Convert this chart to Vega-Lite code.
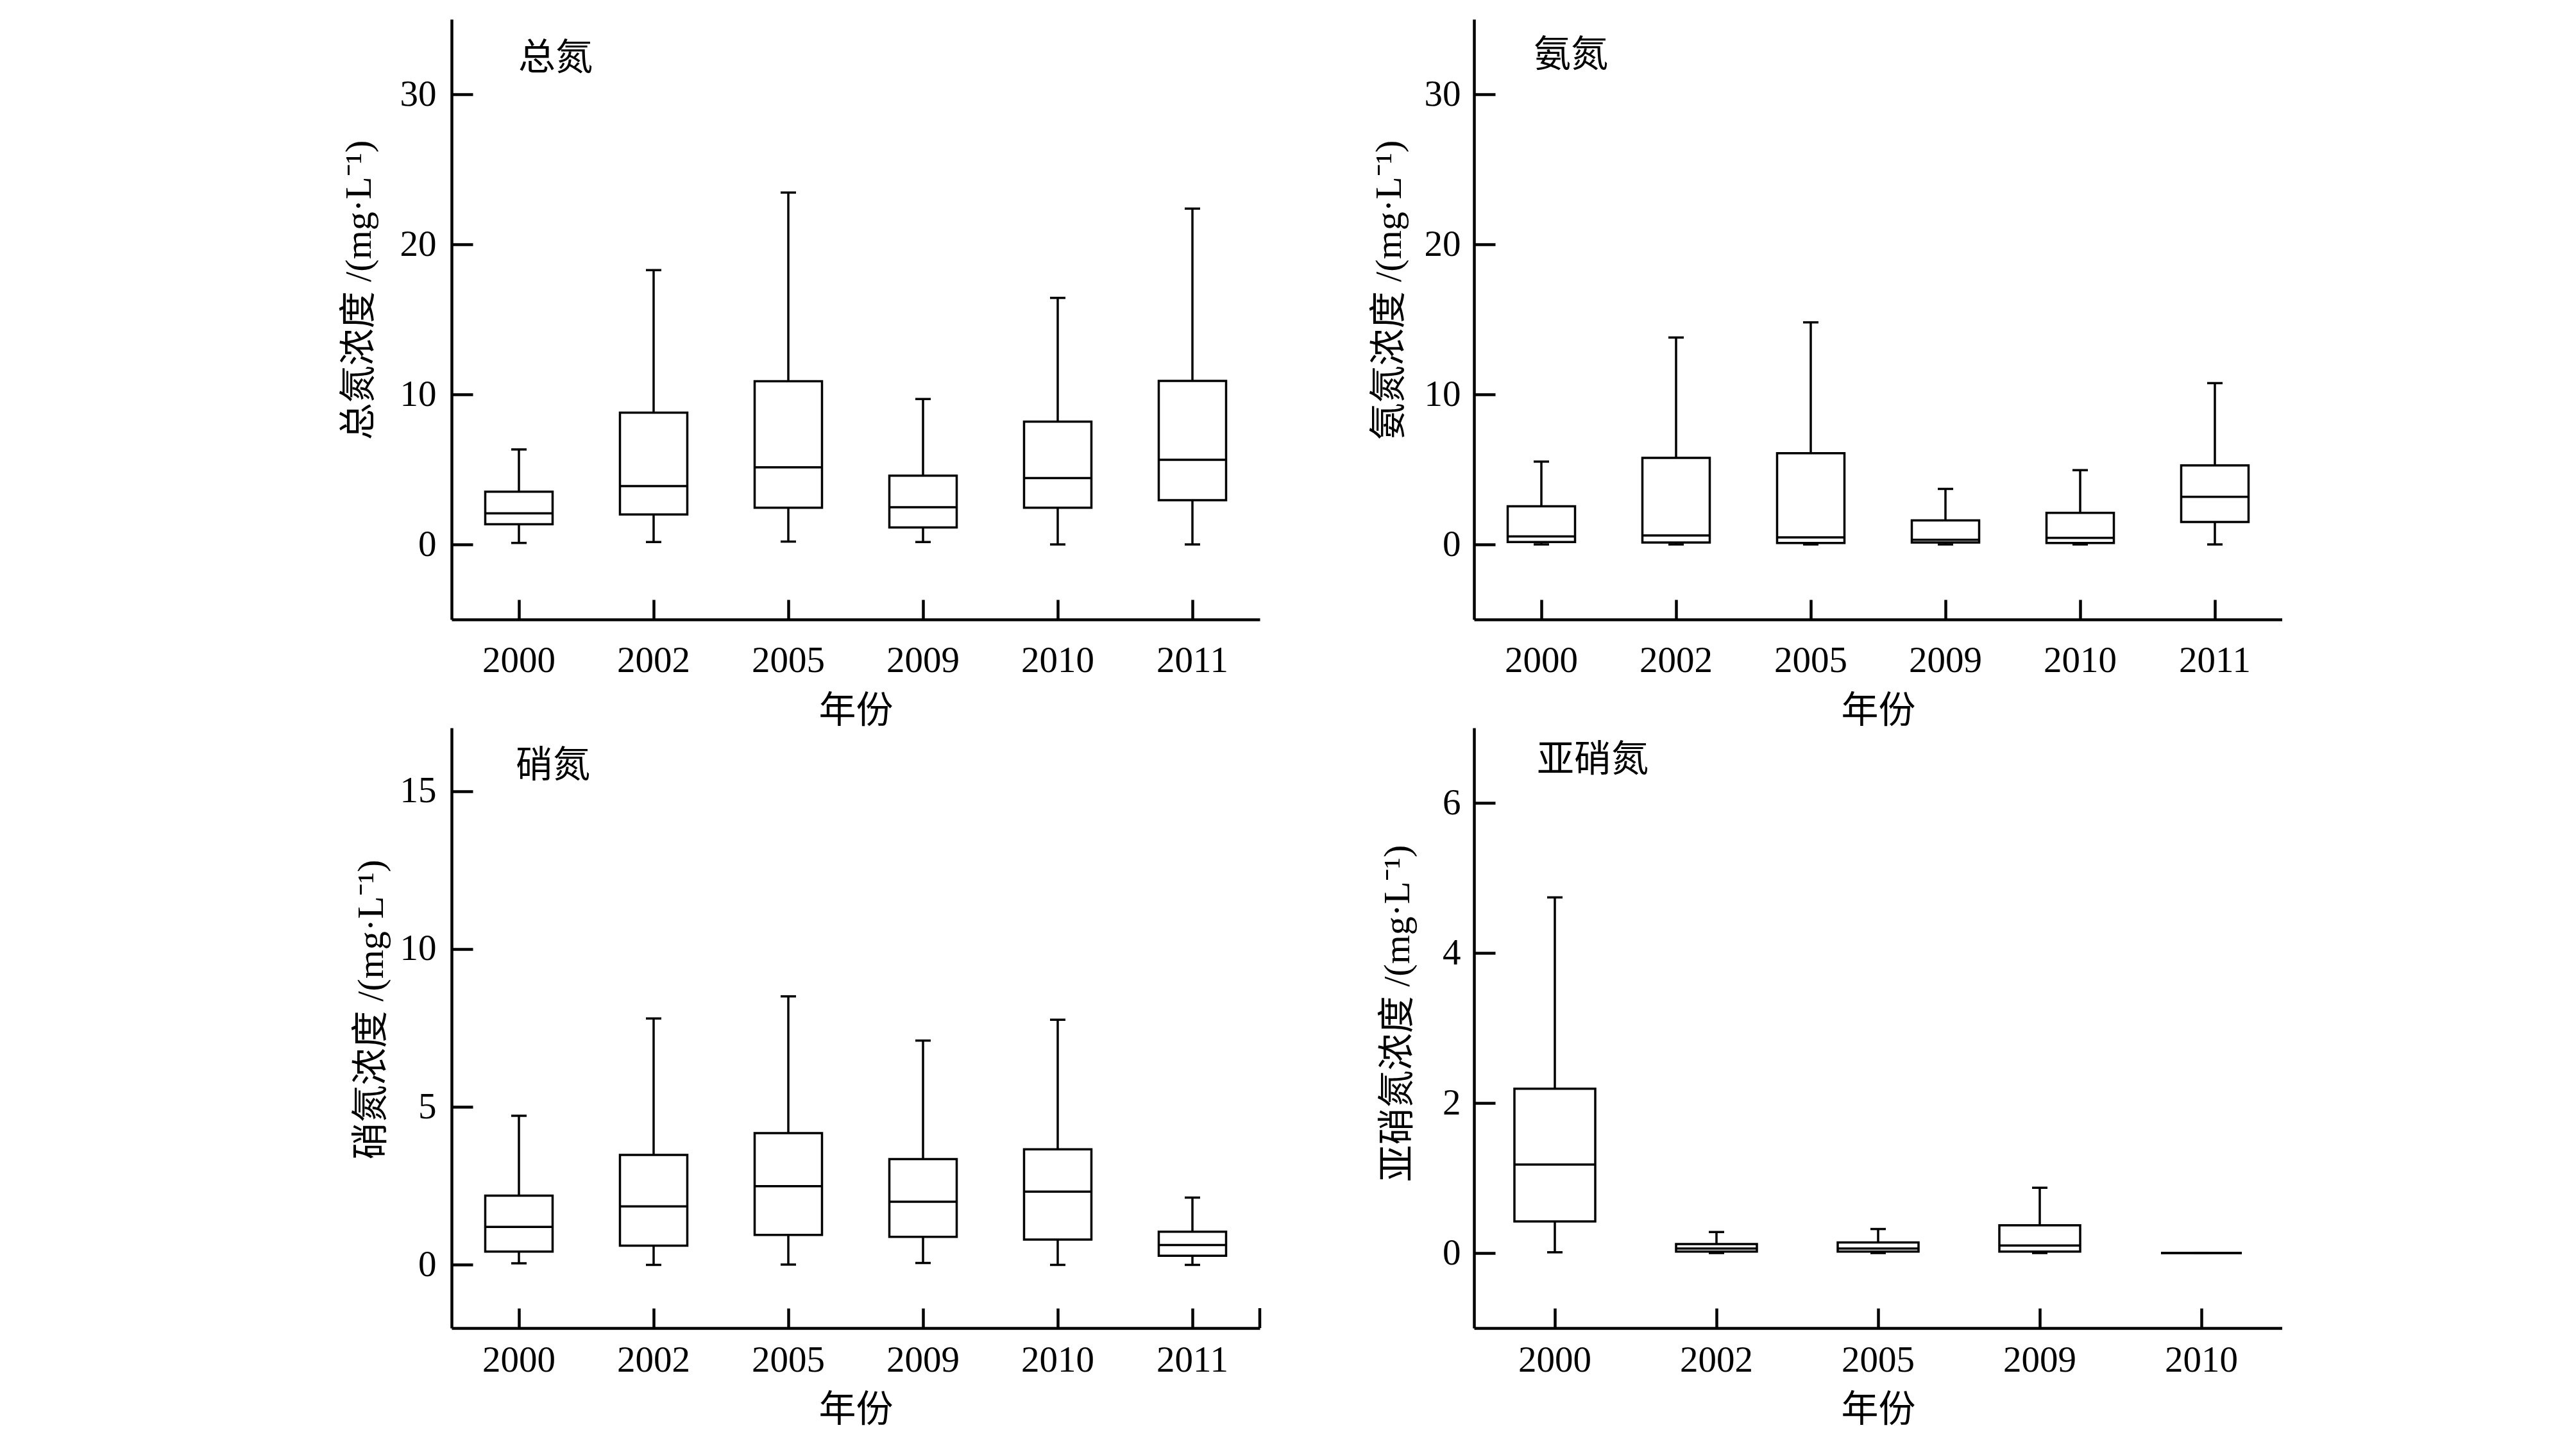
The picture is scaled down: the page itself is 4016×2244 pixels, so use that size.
{
  "$schema": "https://vega.github.io/schema/vega-lite/v6.json",
  "autosize": {"type": "pad"},
  "padding": {"left": 531, "top": 30, "right": 0, "bottom": 0},
  "background": "white",
  "columns": 2,
  "spacing": {"row": 169, "column": 334},
  "bounds": "flush",
  "datasets": {
    "box": [
      {"panel": "TN", "year": "2000", "min": 0.1, "q1": 1.35, "median": 2.07, "q3": 3.51, "max": 6.33},
      {"panel": "TN", "year": "2002", "min": 0.16, "q1": 2.0, "median": 3.89, "q3": 8.78, "max": 18.28},
      {"panel": "TN", "year": "2005", "min": 0.19, "q1": 2.45, "median": 5.14, "q3": 10.88, "max": 23.45},
      {"panel": "TN", "year": "2009", "min": 0.16, "q1": 1.13, "median": 2.48, "q3": 4.58, "max": 9.69},
      {"panel": "TN", "year": "2010", "min": 0, "q1": 2.45, "median": 4.42, "q3": 8.18, "max": 16.43},
      {"panel": "TN", "year": "2011", "min": 0, "q1": 2.95, "median": 5.64, "q3": 10.9, "max": 22.38},
      {"panel": "NH", "year": "2000", "min": 0, "q1": 0.16, "median": 0.53, "q3": 2.54, "max": 5.52},
      {"panel": "NH", "year": "2002", "min": 0, "q1": 0.13, "median": 0.6, "q3": 5.77, "max": 13.79},
      {"panel": "NH", "year": "2005", "min": 0, "q1": 0.1, "median": 0.47, "q3": 6.08, "max": 14.8},
      {"panel": "NH", "year": "2009", "min": 0, "q1": 0.13, "median": 0.31, "q3": 1.6, "max": 3.7},
      {"panel": "NH", "year": "2010", "min": 0, "q1": 0.1, "median": 0.44, "q3": 2.1, "max": 4.95},
      {"panel": "NH", "year": "2011", "min": 0, "q1": 1.5, "median": 3.17, "q3": 5.27, "max": 10.75},
      {"panel": "NO3", "year": "2000", "min": 0.05, "q1": 0.42, "median": 1.2, "q3": 2.19, "max": 4.72},
      {"panel": "NO3", "year": "2002", "min": 0, "q1": 0.61, "median": 1.85, "q3": 3.48, "max": 7.8},
      {"panel": "NO3", "year": "2005", "min": 0.01, "q1": 0.95, "median": 2.49, "q3": 4.17, "max": 8.5},
      {"panel": "NO3", "year": "2009", "min": 0.06, "q1": 0.89, "median": 2.0, "q3": 3.35, "max": 7.1},
      {"panel": "NO3", "year": "2010", "min": 0, "q1": 0.8, "median": 2.32, "q3": 3.66, "max": 7.76},
      {"panel": "NO3", "year": "2011", "min": 0, "q1": 0.29, "median": 0.63, "q3": 1.05, "max": 2.13},
      {"panel": "NO2", "year": "2000", "min": 0.01, "q1": 0.42, "median": 1.18, "q3": 2.19, "max": 4.74},
      {"panel": "NO2", "year": "2002", "min": 0, "q1": 0.02, "median": 0.06, "q3": 0.12, "max": 0.28},
      {"panel": "NO2", "year": "2005", "min": 0, "q1": 0.02, "median": 0.06, "q3": 0.14, "max": 0.32},
      {"panel": "NO2", "year": "2009", "min": 0, "q1": 0.02, "median": 0.1, "q3": 0.37, "max": 0.87},
      {"panel": "NO2", "year": "2010", "min": 0, "q1": 0, "median": 0, "q3": 0, "max": 0}
    ]
  },
  "concat": [
    {
      "width": 1260, "height": 936,
      "data": {"name": "box"},
      "transform": [{"filter": "datum.panel === 'TN'"}],
      "encoding": {
        "x": {"field": "year", "type": "ordinal", "scale": {"paddingInner": 0, "paddingOuter": 0},
              "axis": {"title": "年份", "labelAngle": 0, "tickSize": -31, "labelPadding": 67, "titleY": 143, "titleBaseline": "middle", "titleAlign": "center"}}
      },
      "layer": [
        {"mark": {"type": "rule", "strokeWidth": 3.5, "color": "black"},
         "encoding": {"y": {"field": "min", "type": "quantitative", "title": "总氮浓度 /(mg·L⁻¹)", "scale": {"domain": [-5, 35], "nice": false, "zero": false},
                            "axis": {"values": [0, 10, 20, 30], "format": "d", "tickSize": -33, "labelPadding": 57, "titleX": -144, "titleY": 422, "titleAngle": 270, "titleBaseline": "middle", "titleAlign": "center"}},
                      "y2": {"field": "q1"}}},
        {"mark": {"type": "rule", "strokeWidth": 3.5, "color": "black"},
         "encoding": {"y": {"field": "q3", "type": "quantitative", "title": "总氮浓度 /(mg·L⁻¹)"}, "y2": {"field": "max"}}},
        {"mark": {"type": "tick", "size": 24, "thickness": 3.5, "color": "black", "opacity": 1},
         "encoding": {"y": {"field": "min", "type": "quantitative", "title": "总氮浓度 /(mg·L⁻¹)"}}},
        {"mark": {"type": "tick", "size": 24, "thickness": 3.5, "color": "black", "opacity": 1},
         "encoding": {"y": {"field": "max", "type": "quantitative", "title": "总氮浓度 /(mg·L⁻¹)"}}},
        {"mark": {"type": "bar", "fill": "white", "stroke": "black", "strokeWidth": 3.5, "width": {"band": 0.5}},
         "encoding": {"y": {"field": "q1", "type": "quantitative", "title": "总氮浓度 /(mg·L⁻¹)"}, "y2": {"field": "q3"}}},
        {"mark": {"type": "tick", "size": 105, "thickness": 3.5, "color": "black", "opacity": 1},
         "encoding": {"y": {"field": "median", "type": "quantitative", "title": "总氮浓度 /(mg·L⁻¹)"}}},
        {"data": {"values": [{"label": "总氮"}]},
         "mark": {"type": "text", "align": "left", "baseline": "middle", "dx": -1, "fontSize": 58, "font": "Noto Sans CJK SC", "color": "black"},
         "encoding": {"x": {"datum": "2000"}, "y": {"datum": 32.35, "type": "quantitative", "title": "总氮浓度 /(mg·L⁻¹)"}, "text": {"field": "label"}}}
      ]
    },
    {
      "width": 1260, "height": 936,
      "data": {"name": "box"},
      "transform": [{"filter": "datum.panel === 'NH'"}],
      "encoding": {
        "x": {"field": "year", "type": "ordinal", "scale": {"paddingInner": 0, "paddingOuter": 0},
              "axis": {"title": "年份", "labelAngle": 0, "tickSize": -31, "labelPadding": 67, "titleY": 143, "titleBaseline": "middle", "titleAlign": "center"}}
      },
      "layer": [
        {"mark": {"type": "rule", "strokeWidth": 3.5, "color": "black"},
         "encoding": {"y": {"field": "min", "type": "quantitative", "title": "氨氮浓度 /(mg·L⁻¹)", "scale": {"domain": [-5, 35], "nice": false, "zero": false},
                            "axis": {"values": [0, 10, 20, 30], "format": "d", "tickSize": -33, "labelPadding": 54, "titleX": -132, "titleY": 422, "titleAngle": 270, "titleBaseline": "middle", "titleAlign": "center"}},
                      "y2": {"field": "q1"}}},
        {"mark": {"type": "rule", "strokeWidth": 3.5, "color": "black"},
         "encoding": {"y": {"field": "q3", "type": "quantitative", "title": "氨氮浓度 /(mg·L⁻¹)"}, "y2": {"field": "max"}}},
        {"mark": {"type": "tick", "size": 24, "thickness": 3.5, "color": "black", "opacity": 1},
         "encoding": {"y": {"field": "min", "type": "quantitative", "title": "氨氮浓度 /(mg·L⁻¹)"}}},
        {"mark": {"type": "tick", "size": 24, "thickness": 3.5, "color": "black", "opacity": 1},
         "encoding": {"y": {"field": "max", "type": "quantitative", "title": "氨氮浓度 /(mg·L⁻¹)"}}},
        {"mark": {"type": "bar", "fill": "white", "stroke": "black", "strokeWidth": 3.5, "width": {"band": 0.5}},
         "encoding": {"y": {"field": "q1", "type": "quantitative", "title": "氨氮浓度 /(mg·L⁻¹)"}, "y2": {"field": "q3"}}},
        {"mark": {"type": "tick", "size": 105, "thickness": 3.5, "color": "black", "opacity": 1},
         "encoding": {"y": {"field": "median", "type": "quantitative", "title": "氨氮浓度 /(mg·L⁻¹)"}}},
        {"data": {"values": [{"label": "氨氮"}]},
         "mark": {"type": "text", "align": "left", "baseline": "middle", "dx": -12, "fontSize": 58, "font": "Noto Sans CJK SC", "color": "black"},
         "encoding": {"x": {"datum": "2000"}, "y": {"datum": 32.56, "type": "quantitative", "title": "氨氮浓度 /(mg·L⁻¹)"}, "text": {"field": "label"}}}
      ]
    },
    {
      "width": 1260, "height": 936,
      "data": {"name": "box"},
      "transform": [{"filter": "datum.panel === 'NO3'"}],
      "encoding": {
        "x": {"field": "year", "type": "ordinal", "scale": {"paddingInner": 0, "paddingOuter": 0},
              "axis": {"title": "年份", "labelAngle": 0, "tickSize": -31, "labelPadding": 53, "titleY": 128, "titleBaseline": "middle", "titleAlign": "center"}}
      },
      "layer": [
        {"mark": {"type": "rule", "strokeWidth": 3.5, "color": "black"},
         "encoding": {"y": {"field": "min", "type": "quantitative", "title": "硝氮浓度 /(mg·L⁻¹)", "scale": {"domain": [-2, 17], "nice": false, "zero": false},
                            "axis": {"values": [0, 5, 10, 15], "format": "d", "tickSize": -33, "labelPadding": 57, "titleX": -125, "titleY": 439, "titleAngle": 270, "titleBaseline": "middle", "titleAlign": "center"}},
                      "y2": {"field": "q1"}}},
        {"mark": {"type": "rule", "strokeWidth": 3.5, "color": "black"},
         "encoding": {"y": {"field": "q3", "type": "quantitative", "title": "硝氮浓度 /(mg·L⁻¹)"}, "y2": {"field": "max"}}},
        {"mark": {"type": "tick", "size": 24, "thickness": 3.5, "color": "black", "opacity": 1},
         "encoding": {"y": {"field": "min", "type": "quantitative", "title": "硝氮浓度 /(mg·L⁻¹)"}}},
        {"mark": {"type": "tick", "size": 24, "thickness": 3.5, "color": "black", "opacity": 1},
         "encoding": {"y": {"field": "max", "type": "quantitative", "title": "硝氮浓度 /(mg·L⁻¹)"}}},
        {"mark": {"type": "bar", "fill": "white", "stroke": "black", "strokeWidth": 3.5, "width": {"band": 0.5}},
         "encoding": {"y": {"field": "q1", "type": "quantitative", "title": "硝氮浓度 /(mg·L⁻¹)"}, "y2": {"field": "q3"}}},
        {"mark": {"type": "tick", "size": 105, "thickness": 3.5, "color": "black", "opacity": 1},
         "encoding": {"y": {"field": "median", "type": "quantitative", "title": "硝氮浓度 /(mg·L⁻¹)"}}},
        {"data": {"values": [{"label": "硝氮"}]},
         "mark": {"type": "text", "align": "left", "baseline": "middle", "dx": -5, "fontSize": 58, "font": "Noto Sans CJK SC", "color": "black"},
         "encoding": {"x": {"datum": "2000"}, "y": {"datum": 15.78, "type": "quantitative", "title": "硝氮浓度 /(mg·L⁻¹)"}, "text": {"field": "label"}}},
        {"data": {"values": [{"edge": "end"}]},
         "mark": {"type": "rule", "strokeWidth": 4.5, "color": "black"},
         "encoding": {"x": {"datum": "2011", "bandPosition": 1}, "y": {"datum": -2, "type": "quantitative", "title": "硝氮浓度 /(mg·L⁻¹)"}, "y2": {"datum": -1.37}}}
      ]
    },
    {
      "width": 1260, "height": 936,
      "data": {"name": "box"},
      "transform": [{"filter": "datum.panel === 'NO2'"}],
      "encoding": {
        "x": {"field": "year", "type": "ordinal", "scale": {"paddingInner": 0, "paddingOuter": 0},
              "axis": {"title": "年份", "labelAngle": 0, "tickSize": -31, "labelPadding": 53, "titleY": 128, "titleBaseline": "middle", "titleAlign": "center"}}
      },
      "layer": [
        {"mark": {"type": "rule", "strokeWidth": 3.5, "color": "black"},
         "encoding": {"y": {"field": "min", "type": "quantitative", "title": "亚硝氮浓度 /(mg·L⁻¹)", "scale": {"domain": [-1, 7], "nice": false, "zero": false},
                            "axis": {"values": [0, 2, 4, 6], "format": "d", "tickSize": -33, "labelPadding": 54, "titleX": -119, "titleY": 445, "titleAngle": 270, "titleBaseline": "middle", "titleAlign": "center"}},
                      "y2": {"field": "q1"}}},
        {"mark": {"type": "rule", "strokeWidth": 3.5, "color": "black"},
         "encoding": {"y": {"field": "q3", "type": "quantitative", "title": "亚硝氮浓度 /(mg·L⁻¹)"}, "y2": {"field": "max"}}},
        {"mark": {"type": "tick", "size": 24, "thickness": 3.5, "color": "black", "opacity": 1},
         "encoding": {"y": {"field": "min", "type": "quantitative", "title": "亚硝氮浓度 /(mg·L⁻¹)"}}},
        {"mark": {"type": "tick", "size": 24, "thickness": 3.5, "color": "black", "opacity": 1},
         "encoding": {"y": {"field": "max", "type": "quantitative", "title": "亚硝氮浓度 /(mg·L⁻¹)"}}},
        {"mark": {"type": "bar", "fill": "white", "stroke": "black", "strokeWidth": 3.5, "width": {"band": 0.5}},
         "encoding": {"y": {"field": "q1", "type": "quantitative", "title": "亚硝氮浓度 /(mg·L⁻¹)"}, "y2": {"field": "q3"}}},
        {"mark": {"type": "tick", "size": 126, "thickness": 3.5, "color": "black", "opacity": 1},
         "encoding": {"y": {"field": "median", "type": "quantitative", "title": "亚硝氮浓度 /(mg·L⁻¹)"}}},
        {"data": {"values": [{"label": "亚硝氮"}]},
         "mark": {"type": "text", "align": "left", "baseline": "middle", "dx": -28, "fontSize": 58, "font": "Noto Sans CJK SC", "color": "black"},
         "encoding": {"x": {"datum": "2000"}, "y": {"datum": 6.56, "type": "quantitative", "title": "亚硝氮浓度 /(mg·L⁻¹)"}, "text": {"field": "label"}}}
      ]
    }
  ],
  "config": {
    "view": {"stroke": null},
    "axis": {"domainColor": "black", "tickColor": "black", "labelColor": "black", "titleColor": "black",
             "labelFont": "Liberation Serif, Times New Roman, serif", "titleFont": "Liberation Serif, Noto Sans CJK SC", "titleFontWeight": "normal",
             "labelFontSize": 57, "titleFontSize": 58, "domainWidth": 4.5, "tickWidth": 4.5, "grid": false}
  }
}
